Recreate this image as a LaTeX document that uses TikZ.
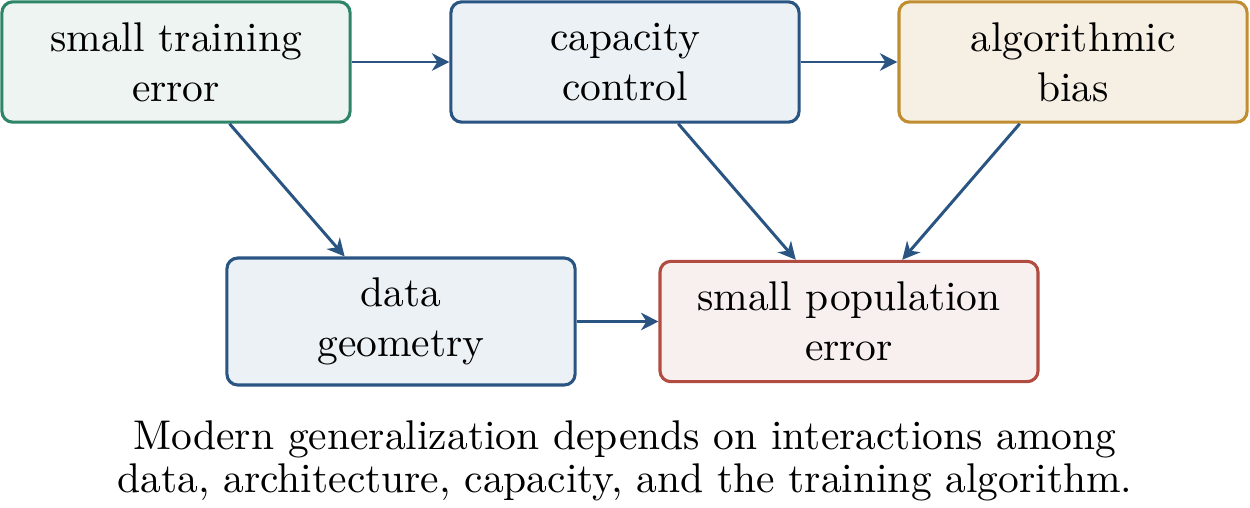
\documentclass[tikz,border=0pt]{standalone}
\usetikzlibrary{arrows.meta}
\definecolor{cblue}{HTML}{2A5583}
\definecolor{cgreen}{HTML}{2E8567}
\definecolor{cgold}{HTML}{C08E30}
\definecolor{cred}{HTML}{B04C40}
\definecolor{fblue}{HTML}{ECF1F5}
\definecolor{fgreen}{HTML}{EEF4F1}
\definecolor{fgold}{HTML}{F6F0E4}
\definecolor{fred}{HTML}{F8F0EF}
\tikzset{
  box/.style={rounded corners=2.6pt, line width=0.75pt, align=center,
    minimum width=83.9pt, minimum height=29pt, inner sep=0pt,
    font=\fontsize{10}{12}\selectfont},
  conn/.style={cblue, line width=0.72pt, -{Stealth[length=4.2pt,width=4.2pt,inset=1.3pt]}},
}
\begin{document}
\begin{tikzpicture}[x=0.241pt,y=-0.241pt]
\useasboundingbox (0,0) rectangle (1250,507);
\node[box, draw=cgreen, fill=fgreen] (A) at (176,62) {small training\\error};
\node[box, draw=cblue, fill=fblue] (B) at (625,62) {capacity\\control};
\node[box, draw=cgold, fill=fgold] (C) at (1073,62) {algorithmic\\bias};
\node[box, draw=cblue, fill=fblue, minimum height=30.6pt] (D) at (401,321.5) {data\\geometry};
\node[box, draw=cred, fill=fred, minimum width=91.1pt] (E) at (849,321.5) {small population\\error};
\node[align=center, inner sep=0pt, font=\fontsize{10}{10.4}\selectfont] (cap) at (625,461) {Modern generalization depends on interactions among\\data, architecture, capacity, and the training algorithm.};
\draw[conn] (A) -- (B);
\draw[conn] (B) -- (C);
\draw[conn] (A) -- (D);
\draw[conn] (B) -- (E);
\draw[conn] (C) -- (E);
\draw[conn] (D) -- (E);
\end{tikzpicture}
\end{document}
